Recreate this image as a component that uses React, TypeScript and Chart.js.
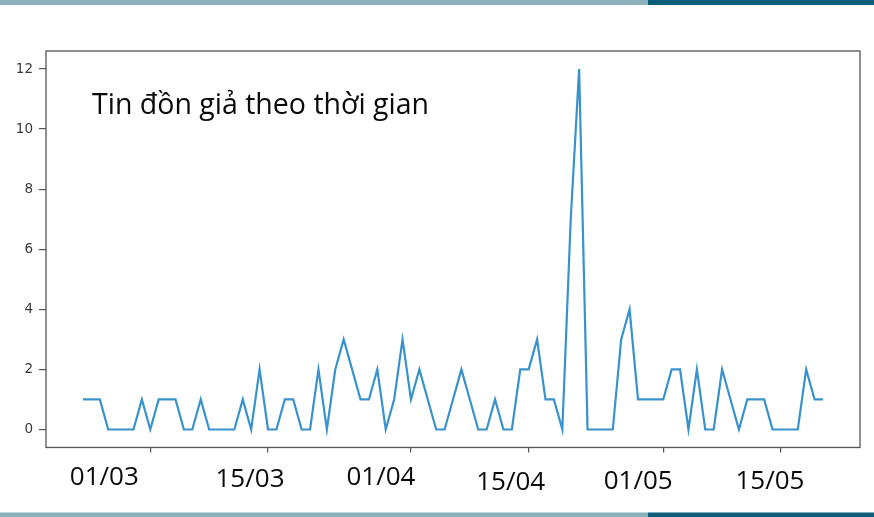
import React, { useEffect, useRef } from 'react';
import { Chart, registerables } from 'chart.js';

Chart.register(...registerables);

// Daily counts of fake rumours, one value per day starting 22/02
const startDay = '22/02';
const values: number[] = [
  1, 1, 1, 0, 0, 0, 0, 1, 0, 1,
  1, 1, 0, 0, 1, 0, 0, 0, 0, 1,
  0, 2, 0, 0, 1, 1, 0, 0, 2, 0,
  2, 3, 2, 1, 1, 2, 0, 1, 3, 1,
  2, 1, 0, 0, 1, 2, 1, 0, 0, 1,
  0, 0, 2, 2, 3, 1, 1, 0, 7, 12,
  0, 0, 0, 0, 3, 4, 1, 1, 1, 1,
  2, 2, 0, 2, 0, 0, 2, 1, 0, 1,
  1, 1, 0, 0, 0, 0, 2, 1, 1,
];
// day index (from startDay) of each x tick, and its label
const xTickDays: number[] = [8, 22, 39, 53, 69, 83];
const xTickLabels: string[] = ['01/03', '15/03', '01/04', '15/04', '01/05', '15/05'];
const yTicks: number[] = [0, 2, 4, 6, 8, 10, 12];
const title = 'Tin đồn giả theo thời gian';

// style: overlay label placement (offset from tick pixel, baseline y)
const labelDx = [-46, -18, -30, -18, -25, -11];
const labelBaseline = [485, 487, 485, 490, 489, 489];

const W = 874;
const H = 517;

export default function App() {
  const ref = useRef<HTMLCanvasElement | null>(null);

  useEffect(() => {
    if (!ref.current) return;
    const n = values.length;
    const margin = (n - 1) * 0.05;
    const decor = {
      id: 'decor',
      beforeDraw(chart: any) {
        const c = chart.ctx;
        c.save();
        c.fillStyle = '#ffffff';
        c.fillRect(0, 0, W, H);
        c.fillStyle = '#8cb2be';
        c.fillRect(0, 0, 648, 5);
        c.fillRect(0, 512.5, 648, 5);
        c.fillStyle = '#0d5e78';
        c.fillRect(648, 0, W - 648, 5);
        c.fillRect(648, 512.5, W - 648, 5);
        c.restore();
      },
      afterDraw(chart: any) {
        const c = chart.ctx;
        const a = chart.chartArea;
        c.save();
        c.strokeStyle = '#555555';
        c.lineWidth = 1.3;
        c.strokeRect(a.left, a.top, a.right - a.left, a.bottom - a.top);
        const xs = chart.scales.x;
        c.fillStyle = '#0a0a0a';
        c.font = '26px "Open Sans"';
        c.textAlign = 'center';
        c.textBaseline = 'alphabetic';
        xTickDays.forEach((d, i) => {
          c.fillText(xTickLabels[i], xs.getPixelForValue(d) + labelDx[i], labelBaseline[i]);
        });
        c.textAlign = 'left';
        c.font = '28.5px "Open Sans"';
        c.fillText(title, 92, 114);
        c.restore();
      },
    };

    const chart = new Chart(ref.current, {
      type: 'line',
      data: {
        datasets: [
          {
            label: 'Tin đồn giả',
            data: values.map((v, i) => ({ x: i, y: v })),
            borderColor: '#3892cc',
            borderWidth: 2.2,
            pointRadius: 0,
            tension: 0,
            fill: false,
          },
        ],
      },
      options: {
        animation: false,
        responsive: false,
        maintainAspectRatio: false,
        layout: { padding: { left: 0, top: 51, right: 14, bottom: 0 } },
        plugins: { legend: { display: false }, tooltip: { enabled: false }, title: { display: false } },
        scales: {
          x: {
            type: 'linear',
            min: -margin,
            max: n - 1 + margin,
            afterBuildTicks: (s: any) => {
              s.ticks = xTickDays.map((v) => ({ value: v }));
            },
            afterFit: (s: any) => {
              s.height = 69.5;
            },
            ticks: { display: false },
            grid: { drawOnChartArea: false, drawTicks: true, tickLength: 5, color: '#555555', lineWidth: 1.2 },
            border: { display: false },
          },
          y: {
            type: 'linear',
            min: -0.6,
            max: 12.6,
            afterBuildTicks: (s: any) => {
              s.ticks = yTicks.map((v) => ({ value: v }));
            },
            afterFit: (s: any) => {
              s.width = 46;
            },
            ticks: {
              font: { family: '"DejaVu Sans"', size: 13.5 },
              color: '#3a3a3a',
              padding: 6,
            },
            grid: { drawOnChartArea: false, drawTicks: true, tickLength: 7, color: '#555555', lineWidth: 1.2 },
            border: { display: false },
          },
        },
      },
      plugins: [decor],
    });
    return () => chart.destroy();
  }, []);

  return (
    <div style={{ position: 'fixed', left: 0, top: 0, width: W, height: H, background: '#fff' }}>
      <canvas ref={ref} width={W} height={H} style={{ width: W, height: H, display: 'block' }} />
    </div>
  );
}
